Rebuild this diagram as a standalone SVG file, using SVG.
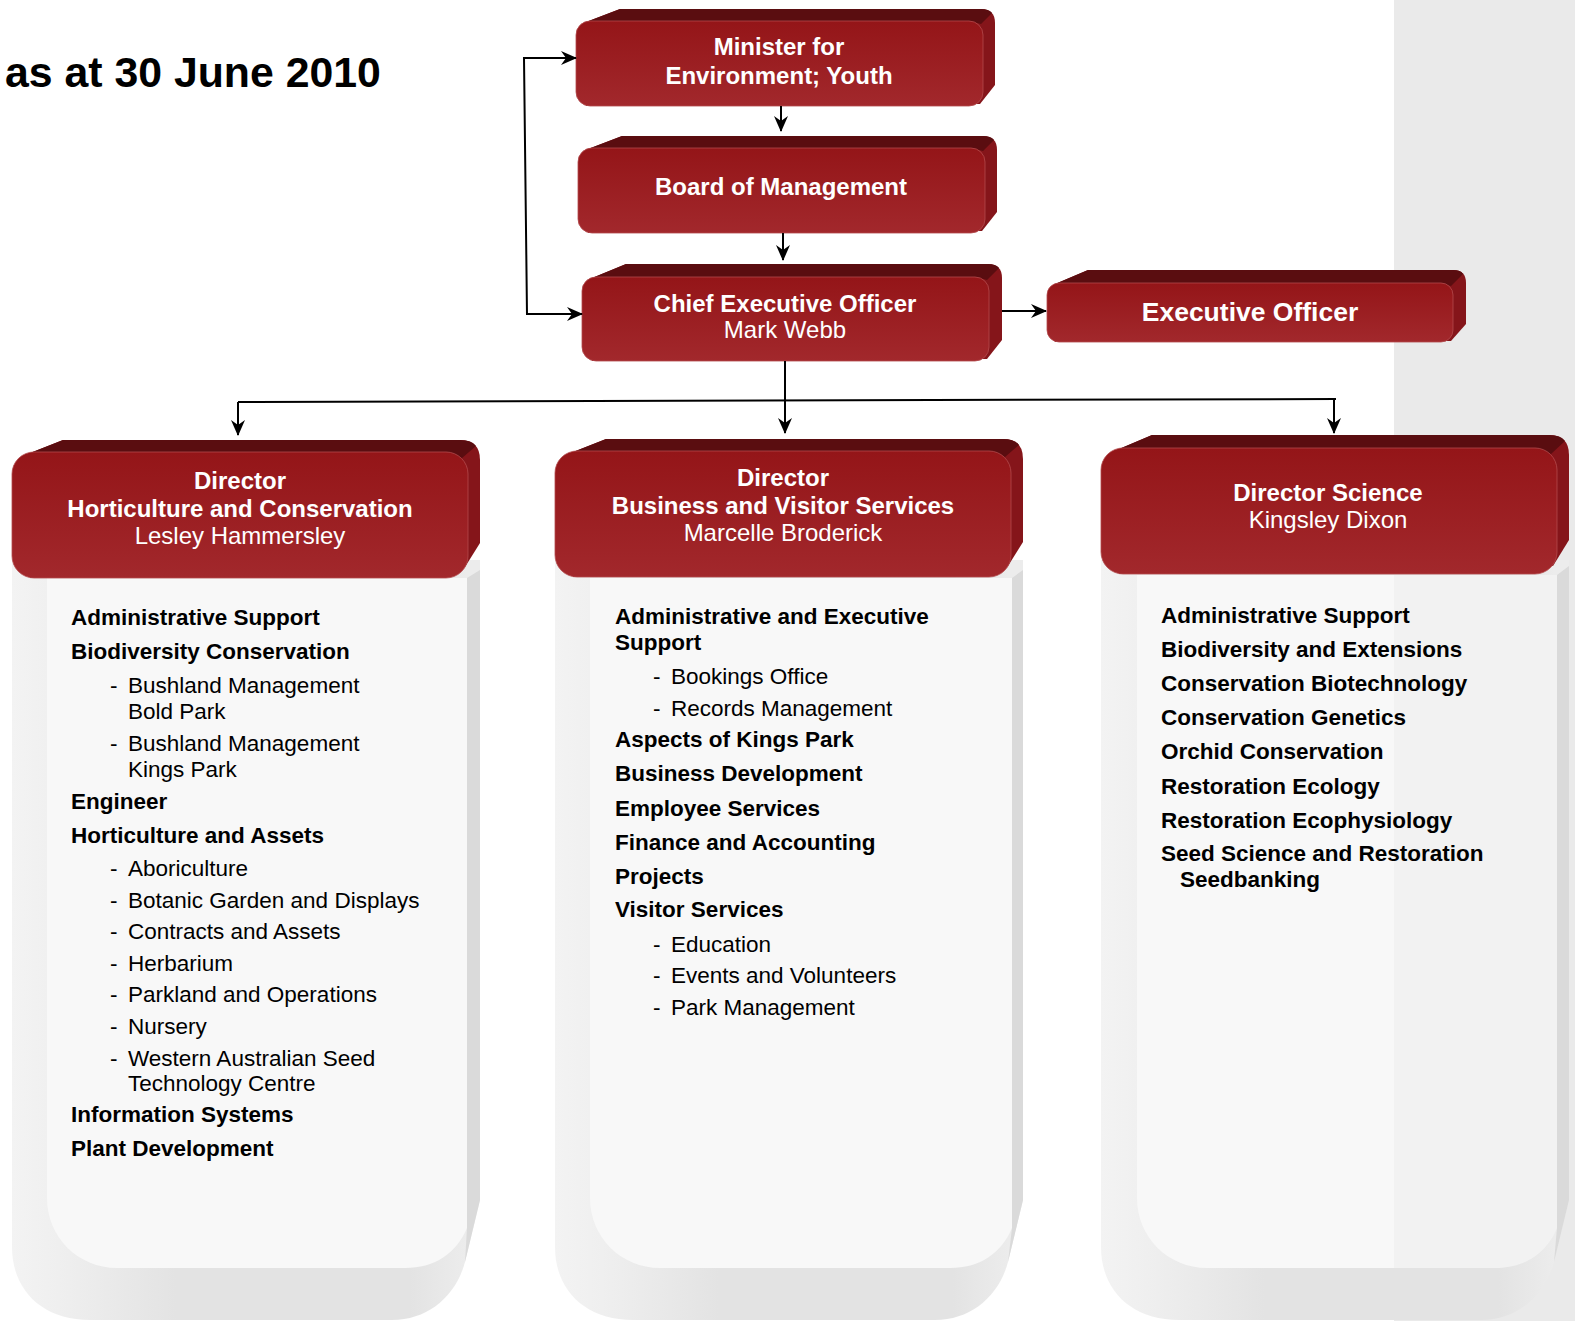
<svg xmlns="http://www.w3.org/2000/svg" width="1575" height="1321" viewBox="0 0 1575 1321">
<defs>
<linearGradient id="gFront" x1="0" y1="0" x2="0" y2="1"><stop offset="0" stop-color="#941518"/><stop offset="1" stop-color="#a2282c"/></linearGradient>
<linearGradient id="gOuter" x1="0" y1="0" x2="1" y2="0"><stop offset="0" stop-color="#f3f3f3"/><stop offset="0.1" stop-color="#efefef"/><stop offset="0.35" stop-color="#e3e3e3"/><stop offset="0.85" stop-color="#e3e3e3"/><stop offset="0.97" stop-color="#ececec"/></linearGradient>
<marker id="ah" viewBox="0 0 16 14" markerWidth="16" markerHeight="14" refX="15" refY="7" orient="auto" markerUnits="userSpaceOnUse"><path d="M0,0 L16,7 L0,14 L5,7 Z" fill="#000"/></marker>
<marker id="ahs" viewBox="0 0 16 14" markerWidth="16" markerHeight="14" refX="15" refY="7" orient="auto-start-reverse" markerUnits="userSpaceOnUse"><path d="M0,0 L16,7 L0,14 L5,7 Z" fill="#000"/></marker>
<clipPath id="cpR"><path d="M1137,575 L1557,575 L1557,1228 C1546,1254 1524,1268 1495,1268 L1207,1268 C1168,1268 1137,1237 1137,1198 Z"/></clipPath>
</defs>
<style>
.side{fill:#85151a}
.top{fill:#5a0d10}
.front{fill:url(#gFront);stroke:#b24a4d;stroke-width:0.8}
.outer{fill:url(#gOuter)}
.inner{fill:#f8f8f8}
.strip{fill:#dadada}
.ht{font-family:"Liberation Sans",Arial,sans-serif;font-size:24px;fill:#fff;text-anchor:middle}
.htb{font-weight:bold}
.big{font-size:26.5px}
.b{font-family:"Liberation Sans",Arial,sans-serif;font-size:22.5px;font-weight:bold;fill:#000}
.r{font-family:"Liberation Sans",Arial,sans-serif;font-size:22.5px;fill:#000}
.ln{fill:none;stroke:#000;stroke-width:2}
</style>
<rect x="0" y="0" width="1575" height="1321" fill="#ffffff"/>
<rect x="1394" y="0" width="181" height="1321" fill="#eaeaea"/>

<text x="5" y="87" font-family="Liberation Sans, Arial, sans-serif" font-size="42.8" font-weight="bold" fill="#000">as at 30 June 2010</text>

<g id="minister">
<path class="side" d="M586,22 L620,9 L981,9 Q995,9 995,23 L995,85 L980,104 L586,106 Z"/>
<path class="top" d="M586,22 L620,9 L981,9 Q989,9 992,13 L981,24 L970,21 Z"/>
<rect class="front" x="576" y="21" width="407" height="85" rx="14"/>
<text class="ht htb" x="779" y="55">Minister for</text>
<text class="ht htb" x="779" y="84">Environment; Youth</text>
</g>

<g id="board">
<path class="side" d="M588,149 L622,136 L983,136 Q997,136 997,150 L997,212 L982,231 L588,233 Z"/>
<path class="top" d="M588,149 L622,136 L983,136 Q991,136 994,140 L983,151 L972,148 Z"/>
<rect class="front" x="578" y="148" width="407" height="85" rx="14"/>
<text class="ht htb" x="781" y="195">Board of Management</text>
</g>

<g id="ceo">
<path class="side" d="M592,278 L626,264 L988,264 Q1002,264 1002,278 L1002,340 L987,359 L592,361 Z"/>
<path class="top" d="M592,278 L626,264 L988,264 Q996,264 999,268 L987,280 L976,277 Z"/>
<rect class="front" x="582" y="277" width="407" height="84" rx="14"/>
<text class="ht htb" x="785" y="312">Chief Executive Officer</text>
<text class="ht" x="785" y="338">Mark Webb</text>
</g>

<g id="exec">
<path class="side" d="M1055,284 L1088,270 L1453,270 Q1466,270 1466,283 L1466,324 L1451,341 L1055,342 Z"/>
<path class="top" d="M1055,284 L1088,270 L1453,270 Q1461,270 1463,274 L1451,286 L1440,283 Z"/>
<rect class="front" x="1047" y="283" width="406" height="59" rx="12"/>
<text class="ht htb big" x="1250" y="321">Executive Officer</text>
</g>

<g id="dir-hort">
<path class="outer" d="M12,560 L12,1247 C12,1290 42,1320 90,1320 L392,1320 C428,1320 456,1296 465,1262 L480,1200 L480,560 Z"/>
<path class="inner" d="M47,578 L467,578 L467,1228 C456,1254 434,1268 405,1268 L117,1268 C78,1268 47,1237 47,1198 Z"/>
<path class="strip" d="M467,578 L480,570 L480,1200 L465,1262 L467,1228 Z"/>
<path class="side" d="M30,453 L63,440 L460,440 Q480,440 480,460 L480,543 L465,567 L30,578 Z"/>
<path class="top" d="M30,453 L63,440 L460,440 Q472,440 476,446 L462,458 L446,452 Z"/>
<rect class="front" x="12" y="452" width="456" height="126" rx="22"/>
<text class="ht htb" x="240" y="489">Director</text>
<text class="ht htb" x="240" y="517">Horticulture and Conservation</text>
<text class="ht" x="240" y="544">Lesley Hammersley</text>
<text class="b" x="71" y="625">Administrative Support</text>
<text class="b" x="71" y="659">Biodiversity Conservation</text>
<text class="r" x="110" y="693">-</text><text class="r" x="128" y="693">Bushland Management</text>
<text class="r" x="128" y="719">Bold Park</text>
<text class="r" x="110" y="751">-</text><text class="r" x="128" y="751">Bushland Management</text>
<text class="r" x="128" y="777">Kings Park</text>
<text class="b" x="71" y="809">Engineer</text>
<text class="b" x="71" y="843">Horticulture and Assets</text>
<text class="r" x="110" y="876">-</text><text class="r" x="128" y="876">Aboriculture</text>
<text class="r" x="110" y="908">-</text><text class="r" x="128" y="908">Botanic Garden and Displays</text>
<text class="r" x="110" y="939">-</text><text class="r" x="128" y="939">Contracts and Assets</text>
<text class="r" x="110" y="971">-</text><text class="r" x="128" y="971">Herbarium</text>
<text class="r" x="110" y="1002">-</text><text class="r" x="128" y="1002">Parkland and Operations</text>
<text class="r" x="110" y="1034">-</text><text class="r" x="128" y="1034">Nursery</text>
<text class="r" x="110" y="1066">-</text><text class="r" x="128" y="1066">Western Australian Seed</text>
<text class="r" x="128" y="1091">Technology Centre</text>
<text class="b" x="71" y="1122">Information Systems</text>
<text class="b" x="71" y="1156">Plant Development</text>
</g>

<g id="dir-bvs">
<path class="outer" d="M555,560 L555,1247 C555,1290 585,1320 633,1320 L935,1320 C971,1320 999,1296 1008,1262 L1023,1200 L1023,560 Z"/>
<path class="inner" d="M590,578 L1012,578 L1012,1228 C1001,1254 979,1268 950,1268 L660,1268 C621,1268 590,1237 590,1198 Z"/>
<path class="strip" d="M1012,578 L1023,570 L1023,1200 L1008,1262 L1012,1228 Z"/>
<path class="side" d="M573,452 L606,439 L1003,439 Q1023,439 1023,459 L1023,542 L1008,566 L573,577 Z"/>
<path class="top" d="M573,452 L606,439 L1003,439 Q1015,439 1019,445 L1005,457 L989,451 Z"/>
<rect class="front" x="555" y="451" width="456" height="126" rx="22"/>
<text class="ht htb" x="783" y="486">Director</text>
<text class="ht htb" x="783" y="514">Business and Visitor Services</text>
<text class="ht" x="783" y="541">Marcelle Broderick</text>
<text class="b" x="615" y="624">Administrative and Executive</text>
<text class="b" x="615" y="650">Support</text>
<text class="r" x="653" y="684">-</text><text class="r" x="671" y="684">Bookings Office</text>
<text class="r" x="653" y="716">-</text><text class="r" x="671" y="716">Records Management</text>
<text class="b" x="615" y="747">Aspects of Kings Park</text>
<text class="b" x="615" y="781">Business Development</text>
<text class="b" x="615" y="816">Employee Services</text>
<text class="b" x="615" y="850">Finance and Accounting</text>
<text class="b" x="615" y="884">Projects</text>
<text class="b" x="615" y="917">Visitor Services</text>
<text class="r" x="653" y="952">-</text><text class="r" x="671" y="952">Education</text>
<text class="r" x="653" y="983">-</text><text class="r" x="671" y="983">Events and Volunteers</text>
<text class="r" x="653" y="1015">-</text><text class="r" x="671" y="1015">Park Management</text>
</g>

<g id="dir-sci">
<path class="outer" d="M1101,560 L1101,1247 C1101,1290 1131,1320 1179,1320 L1481,1320 C1517,1320 1545,1296 1554,1262 L1569,1200 L1569,560 Z"/>
<path class="inner" d="M1137,575 L1557,575 L1557,1228 C1546,1254 1524,1268 1495,1268 L1207,1268 C1168,1268 1137,1237 1137,1198 Z"/>
<rect x="1394" y="570" width="170" height="700" fill="#000" fill-opacity="0.025" clip-path="url(#cpR)"/>
<path class="strip" d="M1557,575 L1569,566 L1569,1200 L1554,1262 L1557,1228 Z"/>
<path class="side" d="M1119,449 L1152,435 L1549,435 Q1569,435 1569,455 L1569,540 L1553,566 L1119,574 Z"/>
<path class="top" d="M1119,449 L1152,435 L1549,435 Q1561,435 1565,441 L1551,454 L1535,448 Z"/>
<rect class="front" x="1101" y="448" width="456" height="126" rx="22"/>
<text class="ht htb" x="1328" y="501">Director Science</text>
<text class="ht" x="1328" y="528">Kingsley Dixon</text>
<text class="b" x="1161" y="623">Administrative Support</text>
<text class="b" x="1161" y="657">Biodiversity and Extensions</text>
<text class="b" x="1161" y="691">Conservation Biotechnology</text>
<text class="b" x="1161" y="725">Conservation Genetics</text>
<text class="b" x="1161" y="759">Orchid Conservation</text>
<text class="b" x="1161" y="794">Restoration Ecology</text>
<text class="b" x="1161" y="828">Restoration Ecophysiology</text>
<text class="b" x="1161" y="861">Seed Science and Restoration</text>
<text class="b" x="1180" y="887">Seedbanking</text>
</g>

<g id="connectors">
<line class="ln" x1="781" y1="106" x2="781" y2="131" marker-end="url(#ah)"/>
<line class="ln" x1="783" y1="233" x2="783" y2="260" marker-end="url(#ah)"/>
<polyline class="ln" points="576,58 524,58 527,314 582,314" marker-start="url(#ahs)" marker-end="url(#ah)"/>
<line class="ln" x1="1002" y1="311" x2="1046" y2="311" marker-end="url(#ah)"/>
<line class="ln" x1="785" y1="361" x2="785" y2="433" marker-end="url(#ah)"/>
<line class="ln" x1="238" y1="402" x2="1336" y2="399"/>
<line class="ln" x1="238" y1="402" x2="238" y2="435" marker-end="url(#ah)"/>
<line class="ln" x1="1334" y1="399" x2="1334" y2="433" marker-end="url(#ah)"/>
</g>
</svg>
